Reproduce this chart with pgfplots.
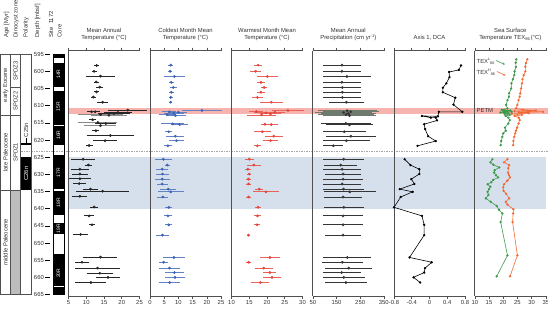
\documentclass[border=0pt]{standalone}
\usepackage{fontspec}
\setmainfont{Liberation Sans}
\usepackage{pgfplots}
\usepackage{pgfplotstable}
\pgfplotsset{compat=1.18}
\usetikzlibrary{arrows.meta}

\definecolor{axgray}{HTML}{505050}
\definecolor{txtgray}{HTML}{333333}
\definecolor{matc}{HTML}{262626}
\definecolor{matlight}{HTML}{8A8A8A}
\definecolor{coldc}{HTML}{3C63B4}
\definecolor{warmc}{HTML}{E5463C}
\definecolor{precc}{HTML}{353535}
\definecolor{preclight}{HTML}{6F7A6F}
\definecolor{texl}{HTML}{3E9A4B}
\definecolor{texh}{HTML}{F16A35}
\definecolor{petmband}{HTML}{F7B3AD}
\definecolor{coolband}{HTML}{D6E0ED}
\definecolor{zonegray}{HTML}{BDBDBD}

\newcommand\fs{\fontsize{5.9}{7.8}\selectfont}
\newcommand\fss{\fontsize{5}{6}\selectfont}
% small raised / lowered index text
\newcommand\up[1]{\raisebox{1.9bp}{\fontsize{4.1}{4.1}\selectfont #1}}
\newcommand\dn[1]{\raisebox{-1.1bp}{\fontsize{4.1}{4.1}\selectfont #1}}
\newcommand\updn[2]{\raisebox{2.3bp}{\fontsize{3.8}{3.8}\selectfont #1}%
  \raisebox{-1.6bp}{\fontsize{3.8}{3.8}\selectfont #2}}

% depth (mbsf), value, half-width of the uncertainty bar
\pgfplotstableread{
d v e
598.3 12.9 0.8
600.0 12.2 0.7
601.4 14.0 4.2
603.1 12.8 0.7
604.6 13.8 1.0
606.0 12.9 0.8
607.5 12.0 0.7
609.0 14.6 1.6
611.3 21.7 5.5
611.8 11.5 1.2
611.8 12.5 1.5
612.0 18.9 4.0
612.3 17.8 4.5
614.1 11.8 1.0
615.2 15.5 3.0
617.3 12.7 1.0
618.7 16.8 6.6
620.2 15.3 3.3
621.6 10.8 1.0
625.6 9.1 3.4
627.3 10.6 1.0
628.5 8.2 2.5
629.9 8.2 2.2
631.3 8.2 3.0
632.7 8.0 1.8
634.3 11.2 2.0
634.9 14.6 7.5
636.4 8.2 2.1
639.5 12.2 1.2
642.1 10.8 1.3
644.7 11.6 0.8
647.5 8.4 2.0
654.1 14.0 4.8
655.6 8.8 2.1
657.3 13.2 6.3
658.8 13.8 3.7
660.0 16.1 3.4
661.5 11.3 4.4
}\matdata
\pgfplotstableread{
d v e
612.6 14.0 6.3
612.8 16.4 5.0
614.9 13.3 5.5
615.8 14.0 4.5
}\matwide

\pgfplotstableread{
d v e
598.2 7.3 0.8
600.0 7.1 0.6
601.5 8.6 3.6
603.2 7.5 0.9
604.7 8.2 1.2
606.1 7.5 0.9
607.6 7.3 0.7
609.0 7.3 0.6
611.4 18.3 7.0
611.8 6.8 2.5
611.9 10.0 3.0
612.2 8.4 3.5
612.6 6.1 3.0
612.9 9.0 3.5
615.3 8.0 4.0
615.5 10.4 3.0
617.6 6.6 1.2
618.9 8.9 3.2
620.2 9.3 2.7
621.7 6.3 1.5
625.6 4.7 3.0
627.3 6.1 0.9
628.5 4.3 2.1
629.9 4.4 2.3
631.4 4.3 2.6
632.8 4.3 2.0
634.3 6.4 2.8
635.1 7.3 4.6
636.6 4.5 2.0
639.6 6.6 1.3
642.1 6.3 1.5
644.7 6.6 1.3
647.7 4.4 2.3
654.2 8.4 3.8
655.6 4.8 1.7
657.3 6.9 3.8
658.6 8.6 3.2
660.0 8.8 3.4
661.5 6.9 3.8
}\colddata

\pgfplotstableread{
d v e
598.2 17.5 1.2
600.0 16.8 1.5
601.5 20.1 3.0
603.2 18.3 1.0
604.7 19.2 0.8
606.1 18.3 1.2
607.6 17.3 1.5
609.0 21.2 3.2
611.4 25.9 4.5
611.7 17.0 2.0
611.9 22.2 3.0
612.1 19.7 3.5
612.4 21.0 3.0
612.7 18.5 4.0
615.4 19.4 1.0
615.5 21.2 2.0
617.6 18.7 2.5
618.9 21.9 2.5
620.2 21.0 2.0
621.7 17.3 1.0
625.6 15.0 1.2
627.3 16.3 2.0
628.5 14.6 0.8
629.9 15.0 0.6
631.4 14.8 0.6
632.8 14.8 0.8
634.3 17.8 1.2
635.1 19.7 3.6
636.6 14.8 0.6
639.6 17.5 0.9
642.1 17.3 0.9
644.7 17.2 0.9
647.7 14.8 0.5
654.2 20.8 2.8
655.6 14.8 0.8
657.3 19.1 2.5
658.6 20.8 1.8
660.0 21.4 2.5
661.5 18.1 2.5
}\warmdata

\pgfplotstableread{
d v e
598.2 173 80
600.0 173 80
601.5 194 100
603.2 173 80
604.7 175 80
606.1 175 80
607.6 175 80
609.0 192 75
615.2 190 105
615.6 205 100
617.6 183 90
618.9 211 105
620.2 192 100
621.7 137 42
625.6 180 86
627.3 168 70
628.5 174 80
629.9 178 75
631.4 178 85
632.8 174 80
634.3 180 85
635.1 206 110
636.6 178 80
639.6 181 85
642.1 178 85
644.7 178 85
647.7 178 75
654.2 196 102
655.6 175 85
657.3 202 100
658.6 172 80
660.0 181 88
661.5 190 90
}\precdata
\pgfplotstableread{
d v e
611.5 195 125
611.8 210 118
612.0 180 120
612.3 200 115
612.6 190 120
612.9 205 110
}\precwide

\pgfplotstableread{
d v
598.3 0.71
599.6 0.66
600.2 0.44
601.7 0.45
603.5 0.38
604.8 0.30
606.1 0.30
607.7 0.58
609.7 0.54
611.8 0.74
611.8 0.21
613.1 0.19
613.0 -0.17
613.5 0.03
613.5 0.14
614.3 0.17
615.4 -0.12
616.8 -0.10
618.9 -0.03
620.3 0.14
621.7 -0.27
}\dcaup
\pgfplotstableread{
d v
625.6 -0.56
627.3 -0.43
628.5 -0.23
629.9 -0.23
631.4 -0.41
632.8 -0.34
634.3 -0.67
635.1 -0.38
636.6 -0.65
639.6 -0.80
642.1 -0.17
644.7 -0.12
647.7 -0.12
654.2 -0.45
655.6 0.05
657.3 -0.10
658.6 -0.12
660.0 -0.36
661.5 -0.21
}\dcalow

\pgfplotstableread{
d v
596.5 24.6
597.5 24.4
598.7 24.5
600.0 24.0
601.1 23.9
602.3 23.4
603.5 22.9
605.0 22.8
606.4 22.1
607.4 22.0
608.4 21.5
609.8 21.0
610.8 21.5
611.2 19.5
611.4 22.5
611.6 20.0
611.8 23.0
612.0 19.0
612.2 21.8
612.4 20.5
612.7 22.3
613.0 20.8
613.5 21.8
614.2 22.3
615.2 21.8
616.4 20.6
617.3 20.9
618.1 20.0
619.1 19.7
620.3 19.3
621.5 19.1
}\texlup
\pgfplotstableread{
d v
625.6 16.2
626.5 15.5
627.2 16.5
628.0 18.6
628.8 17.0
629.5 16.8
630.3 17.5
630.9 18.2
631.6 16.5
632.3 15.8
632.9 14.5
633.6 15.5
634.3 15.0
635.1 14.5
636.0 14.8
637.0 13.9
638.0 15.6
639.2 17.7
640.3 18.5
641.4 19.7
643.9 19.1
653.6 21.5
659.7 17.7
}\texllow
\pgfplotstableread{
d v
596.5 28.5
597.6 28.0
598.7 27.8
600.0 27.8
601.1 27.2
602.3 26.8
603.5 26.6
605.0 26.3
606.4 26.0
607.4 25.8
608.4 25.4
609.8 25.0
610.8 24.5
611.2 27.0
611.4 31.5
611.6 24.0
611.8 34.0
612.0 25.5
612.2 29.0
612.4 23.0
612.7 26.5
613.0 24.0
613.5 25.5
614.2 25.8
615.2 25.4
616.4 24.9
617.3 24.5
618.1 24.2
619.1 23.9
620.3 23.6
621.5 23.5
}\texhup
\pgfplotstableread{
d v
625.6 21.5
626.5 20.3
627.3 22.1
628.2 21.8
629.5 21.7
630.2 22.0
630.9 22.4
631.8 21.5
632.9 20.3
633.8 20.0
634.8 20.1
635.6 21.0
637.0 22.1
638.0 20.9
638.8 21.5
640.2 23.6
641.4 23.5
643.9 23.3
653.6 25.0
659.7 22.4
}\texhlow

\pgfplotsset{
  panel/.style={
    scale only axis, width=71bp, height=245.2bp, anchor=north west,
    ymin=594, ymax=665.4, y dir=reverse, clip=false,
    axis x line=box, axis y line=left,
    x axis line style={-, draw=axgray, line width=0.55pt},
    y axis line style={-, draw=axgray, line width=0.9pt},
    ytick=\empty,
    xtick pos=both, xticklabel pos=left, xtick align=outside,
    major tick length=3bp,
    tick style={axgray, line width=0.55pt},
    tick label style={font=\fs, text=txtgray, inner sep=1.2pt},
    title style={font=\fs, text=txtgray, align=center, anchor=south,
      inner sep=0pt, text depth=1.4bp, yshift=3.3bp},
  },
  errpts/.style 2 args={only marks, mark=*, mark size=1.2bp, color=#1,
    error bars/.cd, x dir=both, x explicit, error mark=none,
    error bar style={line width=0.85bp, color=#2}},
  curve/.style={color=#1, line width=0.6pt, mark=*, mark size=0.85bp},
}

\begin{document}
\begin{tikzpicture}[font=\fs]
\useasboundingbox (0,0) rectangle (548bp,-309bp);

% ---- frame: bands, dashed core-gap line, stratigraphic columns ----
\begin{axis}[scale only axis, width=548bp, height=245.2bp, at={(0,-50.7bp)},
  anchor=north west, xmin=0, xmax=548, ymin=594, ymax=665.4, y dir=reverse,
  hide axis, clip=false]
  \fill[coolband] (axis cs:68.5,625.0) rectangle (axis cs:545.5,640.2);
  \fill[petmband] (axis cs:68.5,610.8) rectangle (axis cs:548,612.4);
  \draw[black!35, dash pattern=on 1.5bp off 1bp, line width=0.5pt]
    (axis cs:21,623.4) -- (axis cs:548,623.4);
  % dinocyst zone shading and polarity
  \fill[zonegray] (axis cs:10.7,634.6) rectangle (axis cs:20.7,665);
  \fill[black] (axis cs:20.7,620.8) rectangle (axis cs:31.7,621.4);
  \fill[black] (axis cs:20.7,625.0) rectangle (axis cs:31.7,634.6);
  \draw[axgray, line width=0.5pt] (axis cs:0.5,595) rectangle (axis cs:31.7,665);
  \draw[axgray, line width=0.5pt] (axis cs:10.7,595) -- (axis cs:10.7,665);
  \draw[axgray, line width=0.5pt] (axis cs:20.7,595) -- (axis cs:20.7,665);
  \draw[axgray, line width=0.5pt] (axis cs:0.5,612.7) -- (axis cs:20.7,612.7);
  \draw[axgray, line width=0.5pt] (axis cs:0.5,634.6) -- (axis cs:20.7,634.6);
  \draw[axgray, line width=0.5pt] (axis cs:10.7,604.7) -- (axis cs:20.7,604.7);
  \node[rotate=90, text=txtgray] at (axis cs:5.6,604.0) {early Eocene};
  \node[rotate=90, text=txtgray] at (axis cs:5.6,623.6) {late Paleocene};
  \node[rotate=90, text=txtgray] at (axis cs:5.6,649.8) {middle Paleocene};
  \node[rotate=90, text=txtgray] at (axis cs:15.7,599.8) {SPDZ3};
  \node[rotate=90, text=txtgray] at (axis cs:15.7,608.7) {SPDZ2};
  \node[rotate=90, text=txtgray] at (axis cs:15.7,623.6) {SPDZ1};
  \draw[black, line width=0.5pt] (axis cs:26.2,619.5) -- (axis cs:26.2,620.8);
  \node[rotate=90, anchor=west, inner sep=0.5pt, text=txtgray] at (axis cs:26.2,619.4) {C25n};
  \node[rotate=90, text=white] at (axis cs:26.2,629.8) {C26n};
  % cored intervals
  \fill[black] (axis cs:52.7,595.0) rectangle (axis cs:64,596.2);
  \fill[black] (axis cs:52.7,597.5) rectangle (axis cs:64,604.7);
  \fill[black] (axis cs:52.7,605.8) rectangle (axis cs:64,615.7);
  \fill[black] (axis cs:52.7,616.0) rectangle (axis cs:64,621.5);
  \fill[black] (axis cs:52.7,624.4) rectangle (axis cs:64,634.4);
  \fill[black] (axis cs:52.7,634.8) rectangle (axis cs:64,641.8);
  \fill[black] (axis cs:52.7,644.3) rectangle (axis cs:64,647.3);
  \fill[black] (axis cs:52.7,653.3) rectangle (axis cs:64,662.5);
  \fill[black] (axis cs:52.7,662.9) rectangle (axis cs:64,665.0);
  \draw[black, line width=0.4pt] (axis cs:52.7,595) rectangle (axis cs:64,665);
  \node[rotate=90, text=white, font=\fss] at (axis cs:58.3,600.8) {14R};
  \node[rotate=90, text=white, font=\fss] at (axis cs:58.3,610.3) {15R};
  \node[rotate=90, text=white, font=\fss] at (axis cs:58.3,618.6) {16R};
  \node[rotate=90, text=white, font=\fss] at (axis cs:58.3,629.5) {17R};
  \node[rotate=90, text=white, font=\fss] at (axis cs:58.3,638.3) {18R};
  \node[rotate=90, text=white, font=\fss] at (axis cs:58.3,645.8) {19R};
  \node[rotate=90, text=white, font=\fss] at (axis cs:58.3,658.8) {20R};
\end{axis}

% ---- depth scale ----
\begin{axis}[scale only axis, width=5bp, height=245.2bp, at={(45bp,-50.7bp)},
  anchor=north west, xmin=0, xmax=1, ymin=594, ymax=665.4, y dir=reverse,
  axis x line=none, axis y line*=left, y axis line style={draw=none},
  ytick={595,600,...,665}, scaled y ticks=false,
  yticklabels={595,600,605,610,615,620,625,630,635,640,645,650,655,660,665},
  ytick align=inside, major tick length=5bp,
  tick style={black, line width=0.5pt},
  yticklabel style={font=\fs, text=txtgray, inner sep=1pt}]
\end{axis}

% ---- column headers ----
\foreach \xx/\tt in {6.5/Age [Myr], 16/Dinocyst zone, 26/Polarity,
                     37.5/Depth [mbsf], 51/Site\ \ 1172, 59.5/Core}
  \node[rotate=90, anchor=west, inner sep=0pt, text=txtgray] at (\xx bp,-37.5bp) {\tt};

% ---- mean annual temperature ----
\begin{axis}[panel, at={(68.5bp,-50.7bp)}, xmin=5, xmax=25,
  xtick={5,10,15,20,25}, xticklabels={5,10,15,20,25},
  title={Mean Annual\\Temperature (°C)}]
  \addplot[errpts={matc}{matlight}] table[x=v, y=d, x error=e] \matwide;
  \addplot[errpts={matc}{matc}] table[x=v, y=d, x error=e] \matdata;
\end{axis}

% ---- coldest month mean temperature ----
\begin{axis}[panel, at={(150bp,-50.7bp)}, xmin=0, xmax=25,
  xtick={0,5,10,15,20,25}, xticklabels={0,5,10,15,20,25},
  title={Coldest Month Mean\\Temperature (°C)}]
  \addplot[errpts={coldc}{coldc!80}] table[x=v, y=d, x error=e] \colddata;
\end{axis}

% ---- warmest month mean temperature ----
\begin{axis}[panel, at={(231.5bp,-50.7bp)}, xmin=10, xmax=30,
  xtick={10,15,20,25,30}, xticklabels={10,15,20,25,30},
  title={Warmest Month Mean\\Temperature (°C)}]
  \addplot[errpts={warmc}{warmc!85}] table[x=v, y=d, x error=e] \warmdata;
\end{axis}

% ---- mean annual precipitation ----
\begin{axis}[panel, at={(312.8bp,-50.7bp)}, xmin=50, xmax=350,
  xtick={50,150,250,350}, xticklabels={50,150,250,350},
  title={Mean Annual\\Precipitation (cm yr\up{-1})}]
  \addplot[errpts={precc}{preclight}] table[x=v, y=d, x error=e] \precwide;
  \addplot[errpts={precc}{precc}] table[x=v, y=d, x error=e] \precdata;
\end{axis}

% ---- DCA axis 1 ----
\begin{axis}[panel, at={(394bp,-50.7bp)}, xmin=-0.8, xmax=0.8,
  xtick={-0.8,-0.4,0,0.4,0.8}, xticklabels={-0.8,-0.4,0,0.4,0.8},
  title={Axis 1, DCA}]
  \addplot[curve=black] table[x=v, y=d] \dcaup;
  \addplot[curve=black] table[x=v, y=d] \dcalow;
\end{axis}

% ---- TEX86 sea surface temperature ----
\begin{axis}[panel, at={(474.8bp,-50.7bp)}, xmin=10, xmax=35,
  xtick={10,15,20,25,30,35}, xticklabels={10,15,20,25,30,35},
  title={Sea Surface\\Temperature TEX\dn{86}\,(°C)}]
  \addplot[curve=texh] table[x=v, y=d] \texhup;
  \addplot[curve=texh] table[x=v, y=d] \texhlow;
  \addplot[curve=texl] table[x=v, y=d] \texlup;
  \addplot[curve=texl] table[x=v, y=d] \texllow;
\end{axis}

% ---- annotations ----
\node[anchor=west, inner sep=0pt, text=txtgray] at (476.5bp,-61.5bp)
  {TEX\updn{L}{86}};
\draw[texl, line width=0.6pt, -{Stealth[length=2.4bp,width=2bp]}]
  (496bp,-60.5bp) -- (505bp,-64.5bp);
\node[anchor=west, inner sep=0pt, text=txtgray] at (476.5bp,-72.5bp)
  {TEX\updn{H}{86}};
\draw[texh, line width=0.6pt, -{Stealth[length=2.4bp,width=2bp]}]
  (497bp,-71.5bp) -- (505.5bp,-75.5bp);
\node[anchor=west, inner sep=0pt, text=txtgray] at (476.5bp,-110.8bp) {PETM};
\end{tikzpicture}
\end{document}
